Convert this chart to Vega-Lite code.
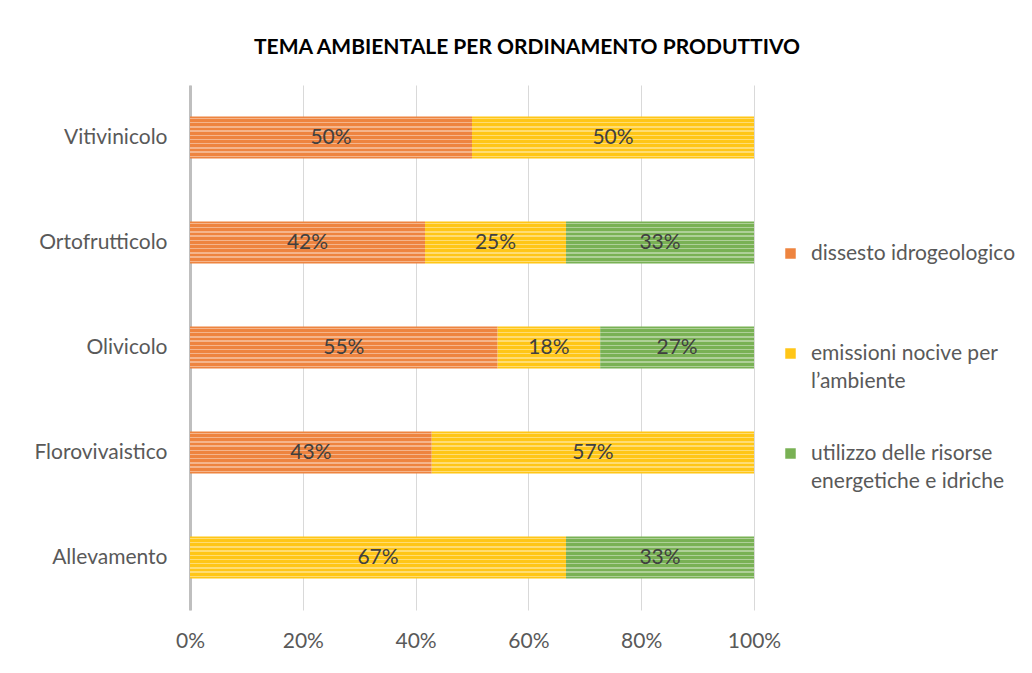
{
  "$schema": "https://vega.github.io/schema/vega-lite/v6.json",
  "width": 564,
  "height": 525,
  "autosize": {"type": "none"},
  "padding": {"left": 190, "top": 85, "right": 278, "bottom": 63},
  "background": "white",
  "title": {
    "text": "TEMA AMBIENTALE PER ORDINAMENTO PRODUTTIVO",
    "font": "Lato",
    "fontSize": 21,
    "fontWeight": "bold",
    "color": "#000000",
    "anchor": "middle",
    "dx": 55,
    "offset": 27
  },
  "config": {
    "view": {"stroke": null},
    "font": "Lato",
    "style": {"guide-label": {"lineHeight": 28}}
  },
  "data": {
    "values": [
      {"cat": "Vitivinicolo", "serie": "dissesto idrogeologico", "value": 0.5},
      {"cat": "Vitivinicolo", "serie": "emissioni nocive per l’ambiente", "value": 0.5},
      {"cat": "Ortofrutticolo", "serie": "dissesto idrogeologico", "value": 0.4167},
      {"cat": "Ortofrutticolo", "serie": "emissioni nocive per l’ambiente", "value": 0.25},
      {"cat": "Ortofrutticolo", "serie": "utilizzo delle risorse energetiche e idriche", "value": 0.3333},
      {"cat": "Olivicolo", "serie": "dissesto idrogeologico", "value": 0.5455},
      {"cat": "Olivicolo", "serie": "emissioni nocive per l’ambiente", "value": 0.1818},
      {"cat": "Olivicolo", "serie": "utilizzo delle risorse energetiche e idriche", "value": 0.2727},
      {"cat": "Florovivaistico", "serie": "dissesto idrogeologico", "value": 0.4286},
      {"cat": "Florovivaistico", "serie": "emissioni nocive per l’ambiente", "value": 0.5714},
      {"cat": "Allevamento", "serie": "emissioni nocive per l’ambiente", "value": 0.6667},
      {"cat": "Allevamento", "serie": "utilizzo delle risorse energetiche e idriche", "value": 0.3333}
    ]
  },
  "transform": [
    {"stack": "value", "groupby": ["cat"], "sort": [{"field": "serie", "order": "ascending"}], "as": ["v0", "v1"]},
    {"calculate": "(datum.v0 + datum.v1) / 2", "as": "mid"}
  ],
  "encoding": {
    "y": {
      "field": "cat",
      "type": "nominal",
      "sort": ["Vitivinicolo", "Ortofrutticolo", "Olivicolo", "Florovivaistico", "Allevamento"],
      "scale": {"paddingInner": 0.6, "paddingOuter": 0.3},
      "axis": {
        "title": null,
        "ticks": false,
        "domain": true,
        "domainColor": "#BFBFBF",
        "domainWidth": 3,
        "labelFont": "Lato",
        "labelFontSize": 21,
        "labelColor": "#595959",
        "labelPadding": 23,
        "grid": false
      }
    }
  },
  "layer": [
    {
      "mark": {"type": "bar"},
      "encoding": {
        "x": {
          "field": "v0",
          "type": "quantitative",
          "scale": {"domain": [0, 1], "nice": false},
          "axis": {
            "title": null,
            "values": [0, 0.2, 0.4, 0.6, 0.8, 1],
            "format": ".0%",
            "domain": false,
            "ticks": false,
            "grid": true,
            "gridColor": "#D9D9D9",
            "gridWidth": 1,
            "labelFont": "Lato",
            "labelFontSize": 21,
            "labelColor": "#595959",
            "labelFlush": false,
            "labelPadding": 20
          }
        },
        "x2": {"field": "v1"},
        "color": {
          "field": "serie",
          "type": "nominal",
          "scale": {
            "domain": ["dissesto idrogeologico", "emissioni nocive per l’ambiente", "utilizzo delle risorse energetiche e idriche"],
            "range": ["#EE843F", "#FFC617", "#79B154"]
          },
          "legend": {
            "title": null,
            "orient": "none",
            "legendX": 590,
            "legendY": 158,
            "symbolType": "square",
            "symbolSize": 110,
            "symbolStrokeWidth": 0,
            "labelFont": "Lato",
            "labelFontSize": 21,
            "labelColor": "#595959",
            "labelLimit": 300,
            "labelOffset": 10,
            "rowPadding": 50,
            "labelExpr": "datum.label == 'emissioni nocive per l’ambiente' ? ['emissioni nocive per', 'l’ambiente'] : datum.label == 'utilizzo delle risorse energetiche e idriche' ? ['utilizzo delle risorse', 'energetiche e idriche'] : [datum.label, ' ']"
          }
        }
      }
    },
    {
      "mark": {
        "type": "bar",
        "fill": {
          "gradient": "linear",
          "x1": 0, "y1": 0, "x2": 0, "y2": 1,
          "stops": [
            {"offset": 0, "color": "rgba(255,255,255,0)"},
            {"offset": 0.03, "color": "rgba(255,255,255,0)"},
            {"offset": 0.03, "color": "rgba(255,255,255,0.4)"},
            {"offset": 0.065, "color": "rgba(255,255,255,0.4)"},
            {"offset": 0.065, "color": "rgba(255,255,255,0)"},
            {"offset": 0.13, "color": "rgba(255,255,255,0)"},
            {"offset": 0.13, "color": "rgba(255,255,255,0.4)"},
            {"offset": 0.165, "color": "rgba(255,255,255,0.4)"},
            {"offset": 0.165, "color": "rgba(255,255,255,0)"},
            {"offset": 0.23, "color": "rgba(255,255,255,0)"},
            {"offset": 0.23, "color": "rgba(255,255,255,0.4)"},
            {"offset": 0.265, "color": "rgba(255,255,255,0.4)"},
            {"offset": 0.265, "color": "rgba(255,255,255,0)"},
            {"offset": 0.33, "color": "rgba(255,255,255,0)"},
            {"offset": 0.33, "color": "rgba(255,255,255,0.4)"},
            {"offset": 0.365, "color": "rgba(255,255,255,0.4)"},
            {"offset": 0.365, "color": "rgba(255,255,255,0)"},
            {"offset": 0.43, "color": "rgba(255,255,255,0)"},
            {"offset": 0.43, "color": "rgba(255,255,255,0.4)"},
            {"offset": 0.465, "color": "rgba(255,255,255,0.4)"},
            {"offset": 0.465, "color": "rgba(255,255,255,0)"},
            {"offset": 0.53, "color": "rgba(255,255,255,0)"},
            {"offset": 0.53, "color": "rgba(255,255,255,0.4)"},
            {"offset": 0.565, "color": "rgba(255,255,255,0.4)"},
            {"offset": 0.565, "color": "rgba(255,255,255,0)"},
            {"offset": 0.63, "color": "rgba(255,255,255,0)"},
            {"offset": 0.63, "color": "rgba(255,255,255,0.4)"},
            {"offset": 0.665, "color": "rgba(255,255,255,0.4)"},
            {"offset": 0.665, "color": "rgba(255,255,255,0)"},
            {"offset": 0.73, "color": "rgba(255,255,255,0)"},
            {"offset": 0.73, "color": "rgba(255,255,255,0.4)"},
            {"offset": 0.765, "color": "rgba(255,255,255,0.4)"},
            {"offset": 0.765, "color": "rgba(255,255,255,0)"},
            {"offset": 0.83, "color": "rgba(255,255,255,0)"},
            {"offset": 0.83, "color": "rgba(255,255,255,0.4)"},
            {"offset": 0.865, "color": "rgba(255,255,255,0.4)"},
            {"offset": 0.865, "color": "rgba(255,255,255,0)"},
            {"offset": 0.93, "color": "rgba(255,255,255,0)"},
            {"offset": 0.93, "color": "rgba(255,255,255,0.4)"},
            {"offset": 0.965, "color": "rgba(255,255,255,0.4)"},
            {"offset": 0.965, "color": "rgba(255,255,255,0)"},
            {"offset": 1, "color": "rgba(255,255,255,0)"}
          ]
        }
      },
      "encoding": {
        "x": {"field": "v0", "type": "quantitative"},
        "x2": {"field": "v1"}
      }
    },
    {
      "mark": {"type": "text", "font": "Lato", "fontSize": 21, "color": "#404040", "align": "center", "baseline": "middle"},
      "encoding": {
        "x": {"field": "mid", "type": "quantitative"},
        "text": {"field": "value", "type": "quantitative", "format": ".0%"}
      }
    }
  ]
}
